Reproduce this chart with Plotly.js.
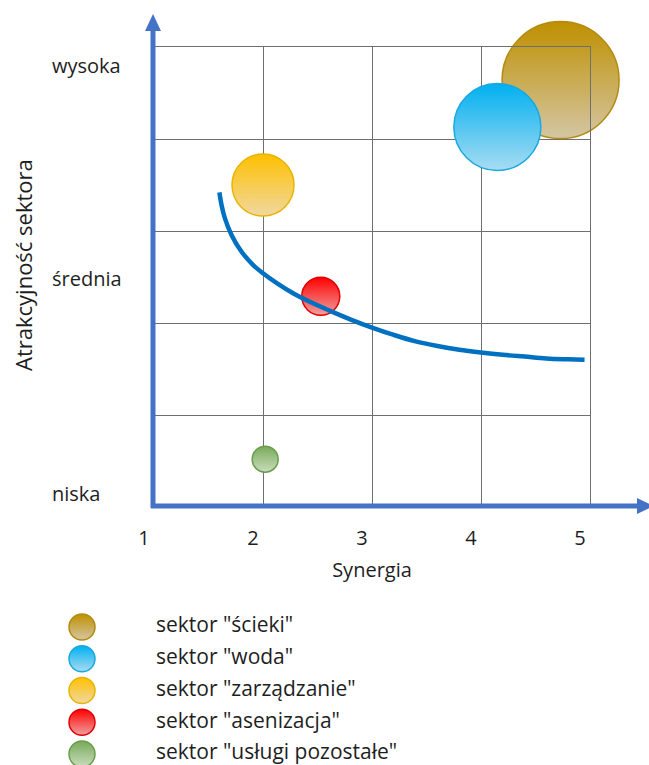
<!DOCTYPE html>
<html><head><meta charset="utf-8">
<script src="https://cdn.plot.ly/plotly-3.0.1.min.js"></script>
<style>html,body{margin:0;padding:0;background:#fff}#chart{width:649px;height:765px}</style>
</head><body><div id="chart"></div>
<script>
// ---- data ----
const sectors = ['sektor "ścieki"','sektor "woda"','sektor "zarządzanie"','sektor "asenizacja"','sektor "usługi pozostałe"'];
const synergia = [4.73, 4.15, 2.00, 2.53, 2.02];
const atrakcyjnosc = [4.64, 4.13, 3.50, 2.29, 0.52];
const bubbleSize = [117, 87, 62, 38, 26];
const xTicks = [1, 2, 3, 4, 5];
const yGrid = [0, 1, 2, 3, 4, 5];
const yLevelLabels = ['niska', 'średnia', 'wysoka'];
const yLevelValues = [0.15, 2.48, 4.80];
const curveX = [1.60,1.62,1.65,1.71,1.80,1.91,2.00,2.13,2.28,2.43,2.60,2.80,3.00,3.20,3.40,3.60,3.80,4.00,4.20,4.40,4.60,4.80,4.95];
const curveY = [3.42,3.28,3.14,2.96,2.78,2.63,2.54,2.43,2.32,2.23,2.14,2.04,1.95,1.87,1.80,1.75,1.71,1.68,1.655,1.635,1.615,1.605,1.60];
const xTitle = 'Synergia';
const yTitle = 'Atrakcyjność sektora';

// ---- style ----
const fillCol = ['#BF9000','#00B0F0','#FFC000','#FF0000','#78AA58'];
const gradCol = ['#D4C6A4','#A8DCF2','#F0D8A0','#F0A0A0','#CADDBF'];
const lineCol = ['#B38A10','#19A8E0','#E8B400','#E00000','#6A9E4C'];
const FONT = 'Open Sans, Noto Sans, sans-serif';
const TXT = '#1e1e1e';
const AXIS_BLUE = '#4472C4';
const W = 649, H = 765;
const X = p => p / W;
const Y = p => 1 - p / H;

const traces = [
  {
    type: 'scatter', mode: 'markers', x: synergia, y: atrakcyjnosc, text: sectors,
    xaxis: 'x', yaxis: 'y', cliponaxis: false, hoverinfo: 'text',
    marker: {
      size: bubbleSize, sizemode: 'diameter', sizeref: 1, opacity: 1,
      color: fillCol,
      gradient: {type: 'vertical', color: gradCol},
      line: {color: lineCol, width: 1.5}
    }
  },
  {
    type: 'scatter', mode: 'lines', x: curveX, y: curveY, xaxis: 'x', yaxis: 'y',
    line: {color: '#0070C0', width: 4.5, shape: 'spline', smoothing: 1}, hoverinfo: 'skip', cliponaxis: false
  },
  {
    type: 'scatter', mode: 'markers', x: sectors.map(() => 82), y: sectors.map((s, i) => i),
    xaxis: 'x2', yaxis: 'y2', cliponaxis: false, hoverinfo: 'skip',
    marker: {size: 26, color: fillCol, gradient: {type: 'vertical', color: gradCol}, line: {color: lineCol, width: 1.5}}
  },
  {
    type: 'scatter', mode: 'text', x: sectors.map(() => 156), y: sectors.map((s, i) => i), text: sectors,
    textposition: 'middle right', xaxis: 'x2', yaxis: 'y2', cliponaxis: false, hoverinfo: 'skip',
    textfont: {family: FONT, size: 21, color: TXT}
  }
];

const shapes = [
  {type: 'line', xref: 'paper', yref: 'paper', x0: X(153), x1: X(153), y0: Y(508), y1: Y(28), line: {color: AXIS_BLUE, width: 5}},
  {type: 'path', xref: 'paper', yref: 'paper', path: `M ${X(153)} ${Y(14)} L ${X(145)} ${Y(31)} L ${X(161)} ${Y(31)} Z`, fillcolor: AXIS_BLUE, line: {width: 0}},
  {type: 'line', xref: 'paper', yref: 'paper', x0: X(151), x1: X(640), y0: Y(506), y1: Y(506), line: {color: AXIS_BLUE, width: 5}},
  {type: 'path', xref: 'paper', yref: 'paper', path: `M ${X(654)} ${Y(506)} L ${X(637)} ${Y(498)} L ${X(637)} ${Y(514)} Z`, fillcolor: AXIS_BLUE, line: {width: 0}}
];

const annotations = yLevelLabels.map((t, i) => ({
  text: t, xref: 'paper', yref: 'y', x: X(50), y: yLevelValues[i], xanchor: 'left', yanchor: 'middle',
  showarrow: false, font: {family: FONT, size: 20, color: TXT}
}));
annotations.push({
  text: yTitle, xref: 'paper', yref: 'paper', x: X(23), y: Y(265), textangle: -90,
  xanchor: 'center', yanchor: 'middle', showarrow: false, font: {family: FONT, size: 22, color: TXT}
});

const gridStyle = {showgrid: true, gridcolor: '#6f6f6f', gridwidth: 1, zeroline: false,
  showline: true, mirror: true, linecolor: '#6f6f6f', linewidth: 1, ticks: '', fixedrange: true, automargin: false};

const layout = {
  width: W, height: H, margin: {l: 0, r: 0, t: 0, b: 0, pad: 0},
  paper_bgcolor: '#ffffff', plot_bgcolor: 'rgba(0,0,0,0)', showlegend: false,
  font: {family: FONT, color: TXT},
  xaxis: Object.assign({}, gridStyle, {
    domain: [X(154), X(590)], range: [1, 5], tickvals: xTicks, anchor: 'y',
    tickfont: {family: FONT, size: 20, color: TXT}, ticklabelshift: -10, ticklabelstandoff: 13,
    title: {text: xTitle, font: {family: FONT, size: 20, color: TXT}, standoff: 12}
  }),
  yaxis: Object.assign({}, gridStyle, {
    domain: [Y(507), Y(47)], range: [0, 5], tickvals: yGrid, showticklabels: false, anchor: 'x'
  }),
  xaxis2: {domain: [0, 1], range: [0, W], visible: false, anchor: 'y2', fixedrange: true},
  yaxis2: {domain: [0, Y(595)], range: [4.346, -1.008], visible: false, anchor: 'x2', fixedrange: true},
  shapes: shapes,
  annotations: annotations
};

Plotly.newPlot('chart', traces, layout, {displayModeBar: false, staticPlot: true});
</script>
</body></html>
